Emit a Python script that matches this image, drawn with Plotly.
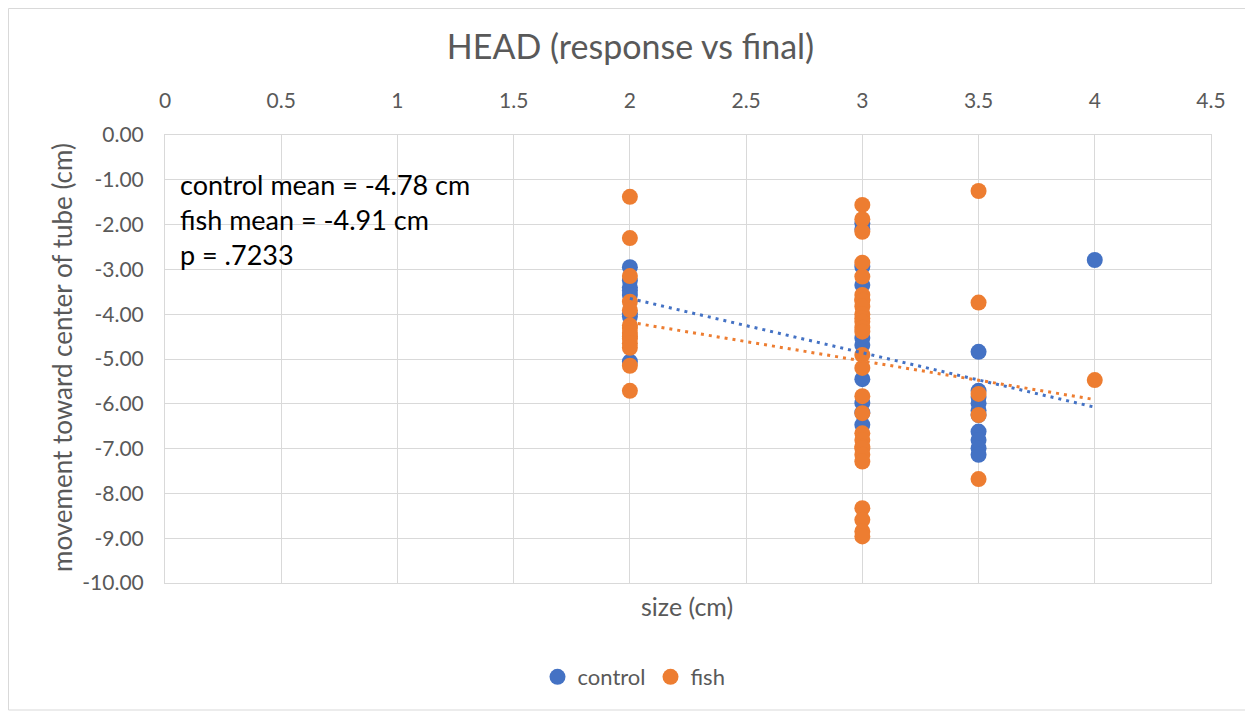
import numpy as np
import plotly.graph_objects as go

# ---- data ----
control_x = [2]*8 + [3]*10 + [3.5]*10 + [4]
control_y = [-2.95, -3.25, -3.40, -3.47, -3.57, -3.98, -4.05, -5.06,
             -1.97, -2.10, -2.94, -3.35, -4.53, -4.69, -5.45, -5.98, -6.20, -6.47,
             -4.84, -5.71, -5.85, -5.99, -6.15, -6.25, -6.62, -6.81, -6.99, -7.14,
             -2.79]
fish_x = [2]*14 + [3]*28 + [3.5]*5 + [4]
fish_y = [-1.38, -2.30, -3.15, -3.72, -3.91, -4.25, -4.31, -4.42, -4.50, -4.55, -4.65, -4.75,
          -5.15, -5.71,
          -1.56, -1.88, -2.16, -2.85, -3.16, -3.57, -3.68, -3.70, -3.83, -4.00, -4.09, -4.17,
          -4.30, -4.39, -4.91, -5.20, -5.83, -6.21, -6.66, -6.81, -6.96, -7.00, -7.14, -7.29,
          -8.33, -8.59, -8.85, -8.96,
          -1.25, -3.74, -5.78, -6.25, -7.68,
          -5.47]
x_ticks = [0, 0.5, 1, 1.5, 2, 2.5, 3, 3.5, 4, 4.5]
y_ticks = [0, -1, -2, -3, -4, -5, -6, -7, -8, -9, -10]
annotation_lines = ["control mean = -4.78 cm", "fish mean = -4.91 cm", "p = .7233"]

BLUE = "#4472C4"
ORANGE = "#ED7D31"
FONT = "Lato"
GRID = "#D9D9D9"
TXT = "#595959"

W, H = 1245, 705
L, R, T, B = 157, 42, 127, 130
PW, PH = W - L - R, H - T - B  # plot area in px


def px_to_paper_x(fx):
    return (fx - L) / PW


def px_to_paper_y(fy):
    return (H - B - fy) / PH


fig = go.Figure()
fig.add_trace(go.Scatter(x=control_x, y=control_y, mode="markers", name="control",
                         marker=dict(color=BLUE, size=16)))
fig.add_trace(go.Scatter(x=fish_x, y=fish_y, mode="markers", name="fish",
                         marker=dict(color=ORANGE, size=16)))

for xs, ys, col in [(control_x, control_y, BLUE), (fish_x, fish_y, ORANGE)]:
    m, b = np.polyfit(xs, ys, 1)
    tx = np.array([min(xs), max(xs)])
    fig.add_trace(go.Scatter(x=tx, y=m*tx+b, mode="lines", showlegend=False,
                             line=dict(color=col, width=3, dash="3px,5px"), hoverinfo="skip"))

fig.add_annotation(text="<br>".join(annotation_lines), xref="paper", yref="paper",
                   x=px_to_paper_x(170), y=px_to_paper_y(158), xanchor="left", yanchor="top",
                   align="left", showarrow=False,
                   font=dict(family=FONT, size=27, color="black"))
# x-axis title (bottom)
fig.add_annotation(text="size (cm)", xref="paper", yref="paper",
                   x=px_to_paper_x(679), y=px_to_paper_y(598), xanchor="center", yanchor="middle",
                   showarrow=False, font=dict(family=FONT, size=25, color=TXT))
# y-axis title
fig.add_annotation(text="movement toward center of tube (cm)", xref="paper", yref="paper",
                   x=px_to_paper_x(54), y=px_to_paper_y(350), xanchor="center", yanchor="middle",
                   textangle=-90, showarrow=False, font=dict(family=FONT, size=26, color=TXT))

fig.update_layout(
    width=W, height=H,
    margin=dict(l=L, r=R, t=T, b=B),
    paper_bgcolor="white", plot_bgcolor="white",
    font=dict(family=FONT, color=TXT, size=21),
    title=dict(text="HEAD (response vs final)", x=0.5, xref="container", xanchor="center",
               y=1-39/H, yanchor="middle", font=dict(family=FONT, size=34, color=TXT)),
    showlegend=True,
    legend=dict(orientation="h", x=626/W, xref="container", xanchor="center",
                y=1-669/H, yref="container", yanchor="middle",
                font=dict(family=FONT, size=22, color=TXT), itemsizing="trace"),
    xaxis=dict(range=[0, 4.5], tickvals=x_ticks, ticktext=[f"{v:g}" for v in x_ticks],
               side="top", showgrid=True, gridcolor=GRID,
               gridwidth=1, zeroline=False, showline=True, linecolor=GRID, mirror=True,
               ticks="", ticklabelstandoff=18, tickfont=dict(size=21, color=TXT)),
    yaxis=dict(range=[-10, 0], tickvals=y_ticks, ticktext=[f"{v:.2f}" for v in y_ticks],
               showgrid=True, gridcolor=GRID,
               zeroline=False, showline=True, linecolor=GRID, mirror=True, ticks="",
               ticklabelstandoff=16, tickfont=dict(size=21, color=TXT)),
    shapes=[dict(type="rect", xref="paper", yref="paper",
                 x0=px_to_paper_x(0.5), x1=px_to_paper_x(1242), y0=px_to_paper_y(702),
                 y1=px_to_paper_y(0.5),
                 line=dict(color=GRID, width=1), fillcolor="rgba(0,0,0,0)", layer="below")],
)
fig.write_html("out.html")
